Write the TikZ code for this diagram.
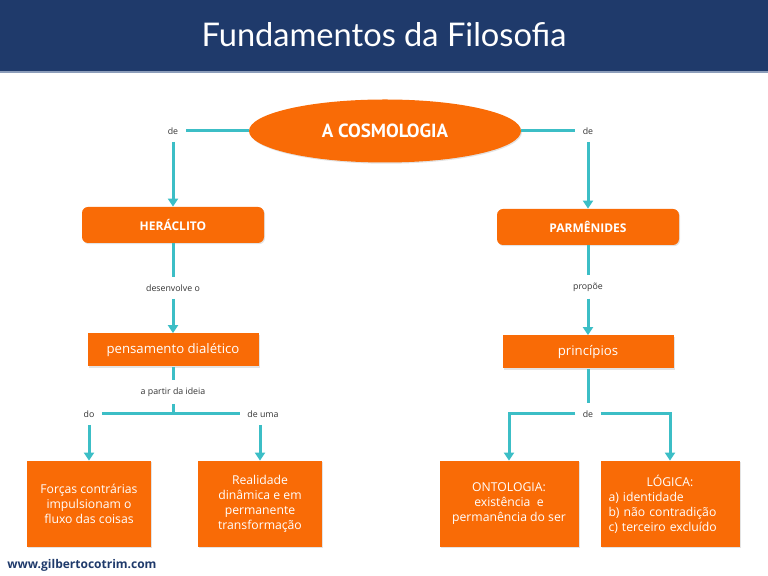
\documentclass[tikz,border=0pt]{standalone}
\usepackage{fontspec}
\setmainfont{Open Sans}
\newfontfamily\titlefont{Lato}
\newfontfamily\narrowfont{PT Sans}
\usetikzlibrary{shapes.geometric,arrows.meta,shadows}
\definecolor{fdBlue}{HTML}{1F3A6B}
\definecolor{fdRule}{HTML}{8C9DBA}
\definecolor{fdOrange}{HTML}{F96B06}
\definecolor{fdTeal}{HTML}{3CBEC6}
\definecolor{fdInk}{HTML}{333333}
\tikzset{
  link/.style   = {line width=1.5pt, color=fdTeal},
  feed/.style   = {link, -{Triangle[length=4pt,width=5pt]}},
  card/.style   = {fill=fdOrange, text=white, inner sep=0pt, align=center,
                   drop shadow={opacity=0.22, shadow xshift=0.5pt, shadow yshift=-0.6pt}},
  who/.style    = {card, rounded corners=3pt, minimum width=91pt, minimum height=18pt,
                   font=\bfseries\fontsize{6}{7}\selectfont},
  idea/.style   = {card, minimum width=85.5pt, minimum height=16.5pt,
                   font=\fontsize{6.6}{8}\selectfont},
  leaf/.style   = {card, minimum width=#1, minimum height=43pt,
                   font=\fontsize{6.1}{7.5}\selectfont},
  leaf/.default = 62pt,
  lbl/.style    = {font=\fontsize{4.4}{5}\selectfont, text=fdInk, inner sep=3.5pt},
}

\begin{document}
\begin{tikzpicture}[x=0.5pt, y=-0.5pt]
\useasboundingbox (0,0) rectangle (768,576);

% ============== header ==================
\fill[fdBlue] (0,0) rectangle (768,71);
\fill[fdRule] (0,71) rectangle (768,73);
\node[text=white, font=\titlefont\fontsize{16.3}{18}\selectfont] (title) at (384,35)
  {Fundamentos da Filosofia};

% ============== top: the two branches ==================
\node[ellipse, fill=fdOrange, text=white, minimum width=136pt, minimum height=31.5pt,
      inner sep=0pt, font=\narrowfont\bfseries\fontsize{9.5}{10}\selectfont,
      drop shadow={opacity=0.22, shadow xshift=0.5pt, shadow yshift=-0.6pt}]
  (cosmo) at (385,131) {A COSMOLOGIA};

\node[lbl] (deL) at (173,131) {de};
\node[lbl] (deR) at (588,131) {de};
\node[who] (heraclito) at (173,225) {HERÁCLITO};
\node[who] (parmenides) at (588,227) {PARMÊNIDES};

\draw[link] (cosmo.west) -- (deL.east);
\draw[link] (cosmo.east) -- (deR.west);
\draw[feed] (deL.south) -- (heraclito.north);
\draw[feed] (deR.south) -- (parmenides.north);

% ============== middle ==================
\node[lbl] (desenv) at (173,288) {desenvolve o};
\node[idea] (dialetico) at (173,350) {pensamento dialético};
\draw[link] (heraclito.south) -- (desenv.north);
\draw[feed] (desenv.south) -- (dialetico.north);

\node[lbl] (propoe) at (588,287) {propõe};
\node[idea] (principios) at (588,352) {princípios};
\draw[link] (parmenides.south) -- (propoe.north);
\draw[feed] (propoe.south) -- (principios.north);

% ============== left leaves ==================
\node[lbl] (partir) at (173,392) {a partir da ideia};
\node[lbl] (do) at (89,414) {do};
\node[lbl] (deuma) at (263,414) {de uma};
\node[leaf] (forcas) at (89,504)
  {Forças contrárias\\impulsionam o\\fluxo das coisas};
\node[leaf] (realidade) at (260,504)
  {Realidade\\dinâmica e em\\permanente\\transformação};

\draw[link] (dialetico.south) -- (partir.north);
\draw[link] (partir.south) -- (partir.south |- do.east);
\draw[link] (do.east) -- (deuma.west);
\draw[feed] (do.south) -- (forcas.north);
\draw[feed] (realidade.north |- deuma.south) -- (realidade.north);

% ============== right leaves ==================
\node[lbl] (dePr) at (588,414) {de};
\node[leaf=69.5pt] (ontologia) at (509,504)
  {ONTOLOGIA:\\existência \ e\\permanência do ser};
\node[leaf=69.5pt, text width=61.5pt, align=left] (logica) at (670,504)
  {\makebox[\linewidth]{LÓGICA:}\\a) identidade\\b) não contradição\\c) terceiro excluído};

\draw[link] (principios.south) -- (dePr.north);
\draw[feed] (dePr.west) -| (ontologia.north);
\draw[feed] (dePr.east) -| (logica.north);

% ============== footer ==================
\node[anchor=west, inner sep=0pt, text=fdBlue, font=\bfseries\fontsize{6}{7}\selectfont]
  (site) at (7,565) {www.gilbertocotrim.com};

\end{tikzpicture}
\end{document}
